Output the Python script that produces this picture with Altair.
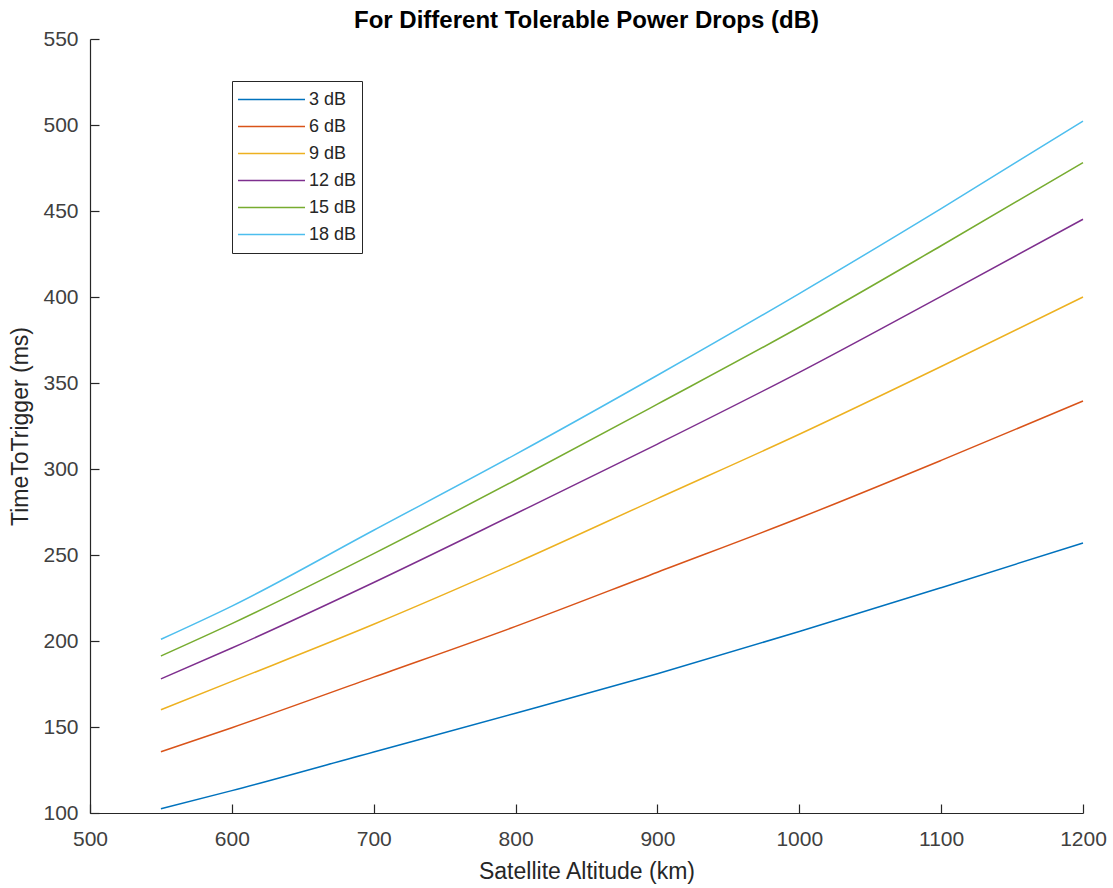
import altair as alt
import pandas as pd

altitude = [550, 600, 700, 800, 900, 1000, 1100, 1200]
series_names = ["3 dB", "6 dB", "9 dB", "12 dB", "15 dB", "18 dB"]
ttt_3db = [102.5, 113.0, 135.5, 158.0, 181.0, 205.5, 231.0, 257.0]
ttt_6db = [135.6, 149.6, 179.0, 208.5, 240.0, 271.5, 305.0, 339.5]
ttt_9db = [160.0, 176.5, 209.7, 245.3, 282.8, 320.2, 359.6, 400.0]
ttt_12db = [178.0, 195.9, 234.0, 274.0, 314.5, 356.2, 400.4, 445.2]
ttt_15db = [191.3, 210.1, 250.8, 293.6, 337.7, 382.4, 429.8, 478.1]
ttt_18db = [201.0, 220.3, 264.4, 308.5, 354.5, 402.0, 451.4, 502.3]
colors = ["#0072BD", "#D95319", "#EDB120", "#7E2F8E", "#77AC30", "#4DBEEE"]
x_ticks = [500, 600, 700, 800, 900, 1000, 1100, 1200]
y_ticks = [100, 150, 200, 250, 300, 350, 400, 450, 500, 550]

all_series = [ttt_3db, ttt_6db, ttt_9db, ttt_12db, ttt_15db, ttt_18db]
rows = []
for name, vals in zip(series_names, all_series):
    for a, v in zip(altitude, vals):
        rows.append({"alt": a, "ttt": v, "drop": name})
df = pd.DataFrame(rows)

FONT = "Liberation Sans"
AX = "#262626"

xscale = alt.Scale(domain=[500, 1200], nice=False, zero=False)
yscale = alt.Scale(domain=[100, 550], nice=False, zero=False)

lines = alt.Chart(df).mark_line(strokeWidth=1.5, interpolate="monotone").encode(
    x=alt.X("alt:Q", scale=xscale,
            axis=alt.Axis(orient="bottom", values=x_ticks, format="d", ticks=False,
                          tickSize=0, grid=False, domainColor=AX, domainWidth=1.2,
                          labelFont=FONT, labelFontSize=21, labelColor="#404040",
                          labelPadding=15, labelFlush=False,
                          title="Satellite Altitude (km)", titleFont=FONT,
                          titleFontSize=23, titleFontWeight="normal", titleColor=AX,
                          titleY=47, titleBaseline="top")),
    y=alt.Y("ttt:Q", scale=yscale,
            axis=alt.Axis(orient="left", values=y_ticks, format="d", ticks=False,
                          tickSize=0, grid=False, domainColor=AX, domainWidth=1.2,
                          labelFont=FONT, labelFontSize=21, labelColor="#404040",
                          labelPadding=12, labelFlush=False,
                          title="TimeToTrigger (ms)", titleFont=FONT,
                          titleFontSize=23, titleFontWeight="normal", titleColor=AX,
                          titleX=-63, titleY=387, titleAlign="center",
                          titleBaseline="alphabetic", titleAngle=-90)),
    color=alt.Color("drop:N", sort=series_names,
                    scale=alt.Scale(domain=series_names, range=colors),
                    legend=alt.Legend(orient="none", legendX=142, legendY=42,
                                      title=None, symbolType="stroke",
                                      symbolSize=4489, symbolStrokeWidth=1.5,
                                      labelFont=FONT, labelFontSize=18, labelColor=AX,
                                      labelOffset=3, clipHeight=27, rowPadding=0,
                                      padding=5, strokeColor=AX, fillColor="white",
                                      direction="vertical")),
)

ticks_layer = alt.Chart(df).mark_point(opacity=0).encode(
    x=alt.X("alt:Q", scale=xscale,
            axis=alt.Axis(orient="top", offset=-774, values=x_ticks, labels=False,
                          domain=False, grid=False, ticks=True, tickSize=9,
                          tickColor=AX, tickWidth=1.2, title=None)),
    y=alt.Y("ttt:Q", scale=yscale,
            axis=alt.Axis(orient="right", offset=-993, values=y_ticks, labels=False,
                          domain=False, grid=False, ticks=True, tickSize=9,
                          tickColor=AX, tickWidth=1.2, title=None)),
)

chart = alt.layer(lines, ticks_layer).resolve_axis(
    x="independent", y="independent"
).properties(
    width=993,
    height=774,
    autosize=alt.AutoSizeParams(type="none"),
    padding={"left": 90, "top": 39, "right": 30, "bottom": 75},
    title=alt.TitleParams(text="For Different Tolerable Power Drops (dB)",
                          font=FONT, fontSize=24, fontWeight="bold", color="black",
                          anchor="middle", offset=8, dy=13),
    background="white",
).configure_view(stroke=None)

chart.save("out.html", embed_options={"renderer": "svg", "actions": False})
